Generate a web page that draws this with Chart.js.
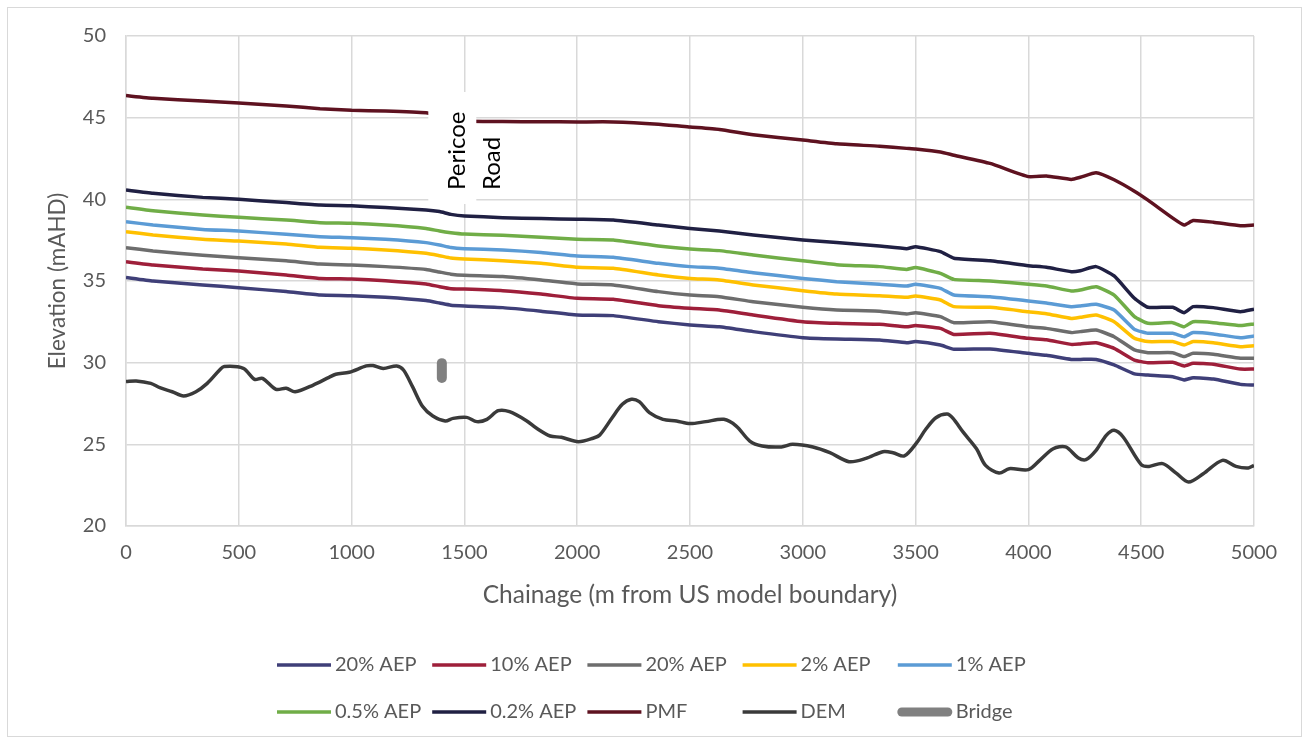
<!DOCTYPE html>
<html>
<head>
<meta charset="utf-8">
<script src="https://cdn.jsdelivr.net/npm/chart.js@4/dist/chart.umd.min.js"></script>
<style>
    body { margin: 0; background: #fff; }
</style>
</head>
<body>
<canvas id="profile" width="1309" height="743"></canvas>
<script>
"use strict";

// DATA (m chainage / mAHD)
const chainage = [0, 120, 340, 500, 710, 860, 1000, 1150, 1330, 1390, 1440, 1500, 1670, 1840, 2000, 2160,
    2360, 2500, 2630, 2780, 3000, 3150, 3340, 3460, 3500, 3610, 3670, 3830, 4000, 4080, 4190, 4230, 4300,
    4380, 4470, 4530, 4640, 4690, 4730, 4820, 4940, 5000];

const aep20 = [35.22, 35.0, 34.76, 34.59, 34.35, 34.14, 34.1, 34.0, 33.8, 33.65, 33.52, 33.47, 33.37, 33.15,
    32.92, 32.88, 32.51, 32.31, 32.2, 31.9, 31.53, 31.45, 31.39, 31.22, 31.29, 31.08, 30.82, 30.84, 30.57,
    30.45, 30.2, 30.2, 30.2, 29.86, 29.31, 29.24, 29.14, 28.94, 29.08, 29.0, 28.67, 28.63];
const aep10 = [36.18, 35.98, 35.73, 35.61, 35.37, 35.16, 35.12, 35.02, 34.82, 34.65, 34.53, 34.51, 34.41, 34.2,
    33.94, 33.88, 33.49, 33.33, 33.22, 32.92, 32.51, 32.41, 32.35, 32.2, 32.27, 32.1, 31.73, 31.8, 31.49,
    31.4, 31.12, 31.15, 31.22, 30.88, 30.16, 30.0, 30.02, 29.8, 29.96, 29.9, 29.61, 29.61];
const aep20b = [37.04, 36.84, 36.57, 36.43, 36.24, 36.04, 35.98, 35.88, 35.71, 35.55, 35.42, 35.35, 35.27, 35.06,
    34.82, 34.76, 34.35, 34.14, 34.04, 33.73, 33.39, 33.22, 33.15, 32.98, 33.06, 32.82, 32.45, 32.51, 32.2,
    32.1, 31.84, 31.9, 32.0, 31.59, 30.78, 30.61, 30.61, 30.37, 30.57, 30.51, 30.27, 30.27];
const aep2 = [38.02, 37.82, 37.55, 37.45, 37.27, 37.06, 37.0, 36.9, 36.7, 36.55, 36.41, 36.35, 36.24, 36.08,
    35.84, 35.78, 35.37, 35.16, 35.06, 34.76, 34.41, 34.2, 34.1, 34.0, 34.08, 33.84, 33.43, 33.39, 33.12,
    33.0, 32.71, 32.78, 32.92, 32.51, 31.49, 31.29, 31.29, 31.08, 31.29, 31.22, 30.98, 31.04];
const aep1 = [38.63, 38.43, 38.16, 38.06, 37.86, 37.71, 37.65, 37.55, 37.35, 37.2, 37.05, 36.98, 36.9, 36.75,
    36.53, 36.45, 36.08, 35.88, 35.78, 35.51, 35.16, 34.96, 34.8, 34.69, 34.8, 34.55, 34.14, 34.04, 33.78,
    33.65, 33.43, 33.47, 33.57, 33.22, 32.04, 31.8, 31.8, 31.59, 31.84, 31.76, 31.53, 31.63];
const aep05 = [39.51, 39.3, 39.04, 38.9, 38.73, 38.57, 38.53, 38.43, 38.22, 38.06, 37.96, 37.88, 37.8, 37.68,
    37.55, 37.51, 37.14, 36.96, 36.86, 36.59, 36.24, 36.0, 35.88, 35.71, 35.82, 35.47, 35.1, 35.0, 34.8,
    34.7, 34.39, 34.45, 34.65, 34.14, 32.82, 32.41, 32.45, 32.2, 32.51, 32.45, 32.27, 32.37];
const aep02 = [40.57, 40.37, 40.12, 40.0, 39.8, 39.65, 39.6, 39.5, 39.35, 39.25, 39.08, 38.98, 38.88, 38.82,
    38.78, 38.73, 38.43, 38.22, 38.06, 37.82, 37.51, 37.35, 37.14, 36.98, 37.1, 36.8, 36.39, 36.24, 35.94,
    35.84, 35.57, 35.63, 35.88, 35.31, 33.94, 33.39, 33.39, 33.06, 33.43, 33.37, 33.12, 33.27];
const pmf = [46.35, 46.19, 46.02, 45.9, 45.72, 45.55, 45.45, 45.41, 45.3, 45.1, 44.9, 44.8, 44.76, 44.75,
    44.74, 44.74, 44.6, 44.43, 44.28, 43.96, 43.63, 43.4, 43.25, 43.12, 43.08, 42.9, 42.7, 42.2, 41.39,
    41.43, 41.22, 41.35, 41.63, 41.2, 40.5, 39.95, 38.85, 38.43, 38.7, 38.6, 38.39, 38.43];

const demChainage = [0, 45, 110, 150, 205, 255, 310, 360, 415, 435, 520, 570, 605, 665, 710, 750, 830, 900,
    930, 990, 1065, 1095, 1140, 1200, 1230, 1270, 1315, 1360, 1415, 1450, 1510, 1555, 1600, 1650, 1700, 1775,
    1820, 1880, 1930, 2005, 2070, 2100, 2155, 2200, 2240, 2275, 2320, 2380, 2440, 2500, 2570, 2650, 2705,
    2765, 2820, 2905, 2955, 3045, 3120, 3205, 3280, 3355, 3400, 3450, 3505, 3545, 3590, 3640, 3665, 3710,
    3770, 3810, 3870, 3915, 4000, 4050, 4110, 4165, 4220, 4255, 4300, 4345, 4380, 4420, 4500, 4535, 4595,
    4655, 4710, 4775, 4860, 4920, 4975, 5000];
const dem = [28.84, 28.88, 28.73, 28.47, 28.22, 27.96, 28.22, 28.73, 29.55, 29.76, 29.65, 28.98, 29.04, 28.37,
    28.43, 28.22, 28.63, 29.1, 29.29, 29.41, 29.8, 29.82, 29.65, 29.8, 29.55, 28.53, 27.31, 26.73, 26.43,
    26.59, 26.65, 26.39, 26.53, 27.06, 27.0, 26.45, 25.98, 25.51, 25.43, 25.16, 25.37, 25.57, 26.63, 27.45,
    27.76, 27.61, 26.94, 26.53, 26.43, 26.27, 26.39, 26.53, 26.12, 25.2, 24.9, 24.84, 25.0, 24.84, 24.49,
    23.94, 24.14, 24.55, 24.49, 24.29, 25.1, 25.92, 26.63, 26.85, 26.6, 25.76, 24.73, 23.71, 23.24, 23.51,
    23.45, 24.02, 24.73, 24.84, 24.18, 24.06, 24.63, 25.55, 25.86, 25.45, 23.76, 23.65, 23.82, 23.24, 22.69,
    23.2, 24.02, 23.65, 23.55, 23.71];

const bridgeChainage = [1400, 1400];
const bridge = [29.06, 29.97];

const labels = ["20% AEP", "10% AEP", "20% AEP", "2% AEP", "1% AEP", "0.5% AEP", "0.2% AEP", "PMF", "DEM", "Bridge"];
const colours = ["#3F3F78", "#9E1F3A", "#6D6D6D", "#FFC000", "#5B9BD5", "#70AD47", "#202043", "#5E1220", "#3A3A3A", "#808080"];

const TEXT = "#595959";
const GRID = "#D9D9D9";
const FONT = "Lato";

function points(xs, ys) {
    return xs.map((x, i) => ({ x, y: ys[i] }));
}

const series = [aep20, aep10, aep20b, aep2, aep1, aep05, aep02, pmf];
const datasets = series.map((ys, i) => ({
    label: labels[i],
    data: points(chainage, ys),
    borderColor: colours[i],
    borderWidth: 3.5,
    pointRadius: 0,
    tension: 0.15
}));
datasets.push({
    label: labels[8],
    data: points(demChainage, dem),
    borderColor: colours[8],
    borderWidth: 3.5,
    pointRadius: 0,
    tension: 0.3
});
datasets.push({
    label: labels[9],
    data: points(bridgeChainage, bridge),
    borderColor: colours[9],
    borderWidth: 10,
    borderCapStyle: "round",
    pointRadius: 0
});

// white frame + border like the spreadsheet chart
const frame = {
    id: "frame",
    beforeDraw(chart) {
        const { ctx } = chart;
        ctx.save();
        ctx.fillStyle = "#fff";
        ctx.fillRect(0, 0, chart.width, chart.height);
        ctx.strokeStyle = GRID;
        ctx.lineWidth = 1;
        ctx.strokeRect(7.5, 7.5, chart.width - 15, chart.height - 14);
        ctx.restore();
    }
};

// text box over the PMF line
const roadLabel = {
    id: "roadLabel",
    afterDatasetsDraw(chart) {
        const { ctx } = chart;
        const x = chart.scales.x.getPixelForValue(1340);
        ctx.save();
        ctx.fillStyle = "#fff";
        ctx.fillRect(x, 92, 48, 112);
        ctx.translate(x, 190);
        ctx.rotate(-Math.PI / 2);
        ctx.fillStyle = "#000";
        ctx.font = `24px ${FONT}`;
        ctx.textBaseline = "middle";
        ctx.textAlign = "left";
        ctx.fillText("Pericoe", 0, 29);
        ctx.fillText("Road", 0, 64);
        ctx.restore();
    }
};

// legend laid out in fixed columns
const gridLegend = {
    id: "gridLegend",
    afterDraw(chart) {
        const { ctx } = chart;
        ctx.save();
        ctx.font = `20px ${FONT}`;
        ctx.textBaseline = "middle";
        chart.data.datasets.forEach((ds, i) => {
            const x0 = 277 + (i % 5) * 155.2;
            const y = 665 + Math.floor(i / 5) * 47;
            const thick = ds.borderWidth === 10;
            ctx.strokeStyle = ds.borderColor;
            ctx.lineWidth = thick ? 9 : 3.5;
            ctx.lineCap = thick ? "round" : "butt";
            ctx.beginPath();
            const pad = thick ? 4 : 0;
            ctx.moveTo(x0 + pad, y);
            ctx.lineTo(x0 + 54 - pad, y);
            ctx.stroke();
            ctx.fillStyle = TEXT;
            ctx.fillText(ds.label, x0 + 58, y);
        });
        ctx.restore();
    }
};

new Chart(document.getElementById("profile"), {
    type: "line",
    data: { datasets },
    plugins: [frame, roadLabel, gridLegend],
    options: {
        responsive: false,
        animation: false,
        layout: { padding: { top: 36, right: 55, bottom: 133, left: 0 } },
        plugins: {
            legend: { display: false },
            tooltip: { enabled: false }
        },
        scales: {
            x: {
                type: "linear",
                min: 0,
                max: 5000,
                afterFit(scale) {
                    scale.height = 84;
                },
                ticks: {
                    stepSize: 500,
                    color: TEXT,
                    padding: 15,
                    font: { family: FONT, size: 20 },
                    callback: (v) => String(v)
                },
                grid: { color: GRID, lineWidth: 1.5, drawTicks: false },
                border: { color: GRID, width: 1.5 },
                title: {
                    display: true,
                    text: "Chainage (m from US model boundary)",
                    color: TEXT,
                    font: { family: FONT, size: 24.5 },
                    padding: 0
                }
            },
            y: {
                min: 20,
                max: 50,
                afterFit(scale) {
                    scale.width = 126;
                },
                ticks: { stepSize: 5, color: TEXT, padding: 20, font: { family: FONT, size: 20 } },
                grid: { color: GRID, lineWidth: 1.5, drawTicks: false },
                border: { color: GRID, width: 1.5 },
                title: {
                    display: true,
                    text: "Elevation (mAHD)",
                    color: TEXT,
                    font: { family: FONT, size: 22.5 },
                    padding: { top: 44, bottom: 0 }
                }
            }
        }
    }
});
</script>
</body>
</html>
